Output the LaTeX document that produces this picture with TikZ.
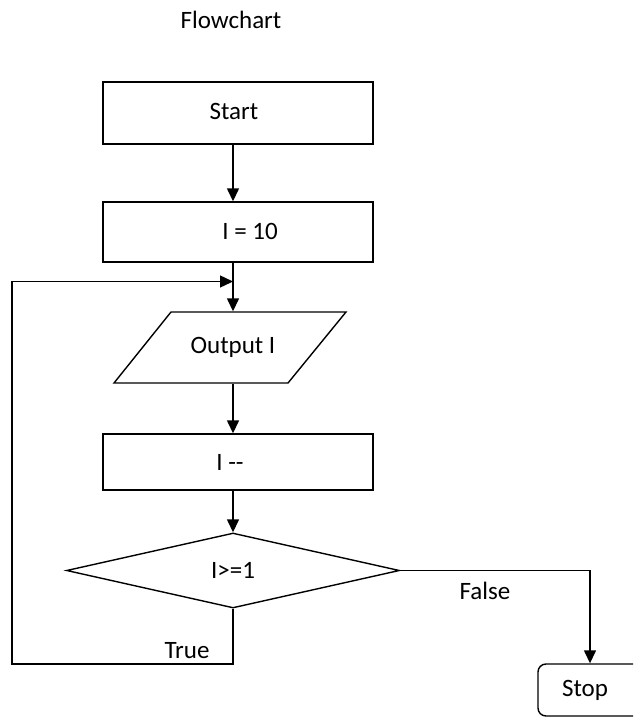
\documentclass[tikz,border=0pt]{standalone}
\usepackage{fontspec}
\setmainfont{Carlito}
\usetikzlibrary{arrows.meta,shapes.geometric}
\begin{document}
\begin{tikzpicture}[x=1pt,y=-1pt,
  font=\fontsize{25}{30}\selectfont,
  line width=1.4pt,
  box/.style={draw, rectangle, minimum width=270pt, minimum height=60pt, inner sep=0pt},
  flow/.style={-{Triangle[width=12pt,length=13pt]}},
  tag/.style={inner sep=0pt}]
\useasboundingbox (0,0) rectangle (633,718);
\clip (0,0) rectangle (633,718);

% column that the main flow follows
\coordinate (col) at (233,0);

% title
\node[tag] (title) at (231,20) {Flowchart};

% process boxes
\node[box, minimum height=62pt] (start) at (238,113) {\hspace*{-8pt}\raisebox{3pt}{Start}};
\node[box] (init) at (238,232) {\hspace*{24pt}\raisebox{2pt}{I = 10}};
\node[box, minimum height=56pt] (dec) at (238,462) {\hspace*{-16pt}I -{}-};

% output parallelogram
\draw (171,312) -- (346,312) -- (288,383) -- (114,383) -- cycle;
\node[tag, minimum height=71pt] (output) at (233,347.5) {\raisebox{-3pt}{Output I}};

% decision
\node[draw, diamond, minimum width=333pt, minimum height=75pt, inner sep=0pt]
  (test) at (233,570.5) {\raisebox{-2pt}{I>=1}};

% terminal
\node[draw, rounded corners=8pt, minimum width=104pt, minimum height=52pt, inner sep=0pt]
  (stop) at (590,690) {\hspace*{-10pt}\raisebox{-4pt}{Stop}};

% branch labels
\node[tag] (truelab) at (187,651) {True};
\node[tag] (falselab) at (485,591) {False};

% connectors
\coordinate (join) at (233,281.5);
\coordinate (loopL) at (12,664);
\draw[flow] (start.south -| col) -- (init.north -| col);
\draw[flow] (init.south -| col) -- (output.north);
\draw[flow] (output.south) -- (dec.north -| col);
\draw[flow] (dec.south -| col) -- (test.north);
\draw[flow] (test.south) |- (loopL) |- (join);
\draw[flow] (test.east) -| (stop.north);
\end{tikzpicture}
\end{document}
